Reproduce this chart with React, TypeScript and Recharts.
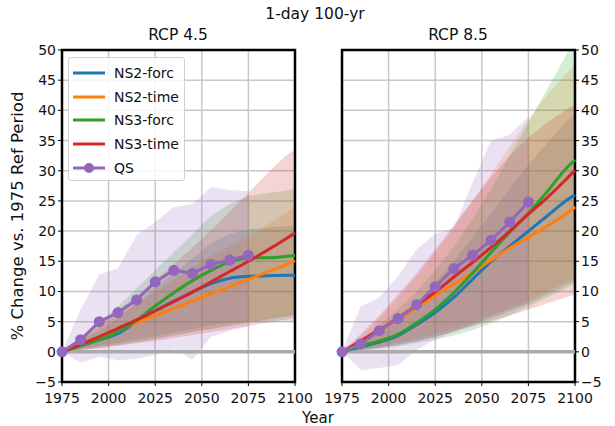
import React from 'react';
import {
  Area,
  CartesianGrid,
  ComposedChart,
  Line,
  ReferenceArea,
  ReferenceLine,
  XAxis,
  YAxis,
} from 'recharts';

// sample years (lines run to 2100, QS stops at 2075)
const years = [1975, 1985, 1995, 2005, 2015, 2025, 2035, 2045, 2055, 2065, 2075, 2085, 2095, 2100];
const xTicks = [1975, 2000, 2025, 2050, 2075, 2100];
const yTicks = [-5, 0, 5, 10, 15, 20, 25, 30, 35, 40, 45, 50];

// RCP 4.5 medians
const rcp45Ns2Forc = [0, 1.0, 2.0, 3.0, 5.0, 6.8, 8.4, 9.9, 11.3, 12.2, 12.5, 12.6, 12.7, 12.7];
const rcp45Ns2Time = [0, 1.2, 2.4, 3.6, 4.8, 6.0, 7.2, 8.4, 9.6, 10.8, 12.0, 13.2, 14.4, 15.1];
const rcp45Ns3Forc = [0, 1.0, 2.0, 3.3, 5.2, 7.6, 9.8, 11.8, 13.5, 14.9, 15.6, 15.6, 15.8, 16.0];
const rcp45Ns3Time = [0, 1.2, 2.5, 3.9, 5.3, 6.8, 8.3, 9.9, 11.6, 13.3, 15.0, 16.8, 18.7, 19.7];
const rcp45Qs = [0, 2.0, 5.0, 6.5, 8.6, 11.6, 13.5, 13.0, 14.5, 15.2, 16.0];

// RCP 4.5 ranges
const rcp45Ns2ForcLo = [0, 0.5, 1, 1.5, 2, 2.6, 3.2, 3.8, 4.4, 4.8, 5.0, 5.0, 5.0, 5.0];
const rcp45Ns2ForcHi = [0, 2, 3.5, 5.5, 8, 10.5, 13, 15.5, 18, 19.5, 20.3, 20.6, 20.8, 20.9];
const rcp45Ns2TimeLo = [0, 0.4, 0.8, 1.2, 1.7, 2.2, 2.8, 3.3, 3.8, 4.4, 4.9, 5.4, 5.9, 6.2];
const rcp45Ns2TimeHi = [0, 2, 4, 6, 8, 10, 12, 14, 16, 17.5, 19, 21, 23, 24];
const rcp45Ns3ForcLo = [0, 0.3, 0.7, 1.1, 1.6, 2.1, 2.7, 3.3, 3.8, 4.3, 4.8, 5.3, 5.8, 6.2];
const rcp45Ns3ForcHi = [0, 2.5, 5, 7.5, 10.5, 13.5, 16.5, 19.5, 22.5, 24.5, 25.8, 26.3, 26.7, 27];
const rcp45Ns3TimeLo = [0, 0.3, 0.6, 1.0, 1.4, 1.8, 2.3, 2.8, 3.3, 3.8, 4.3, 4.8, 5.3, 5.6];
const rcp45Ns3TimeHi = [0, 2.2, 4.5, 6.8, 9.2, 11.8, 14.5, 17.3, 20.2, 23.2, 26.3, 29.5, 32.5, 33.5];
const rcp45QsLo = [0, -1.8, -0.8, -1.4, -1.2, -0.5, 0.5, -1.3, 2.5, 3.5, 4.2];
const rcp45QsHi = [0, 7, 12.8, 13.8, 19.3, 21.5, 24, 24.5, 27.3, 26.8, 26.6];

// RCP 8.5 medians
const rcp85Ns2Forc = [0, 0.8, 1.6, 2.7, 4.5, 6.5, 9.0, 12.0, 15.0, 17.5, 20.0, 22.5, 25.0, 26.0];
const rcp85Ns2Time = [0, 1.6, 3.4, 5.3, 7.3, 9.3, 11.2, 13.1, 15.2, 17.2, 19.0, 20.8, 22.8, 24.0];
const rcp85Ns3Forc = [0, 1.0, 1.8, 2.9, 4.8, 7.0, 9.8, 13.0, 16.5, 19.8, 23.0, 26.5, 30.3, 31.8];
const rcp85Ns3Time = [0, 1.8, 3.6, 5.6, 7.7, 9.9, 12.4, 14.8, 17.3, 20.0, 22.8, 25.5, 28.5, 30.1];
const rcp85Qs = [0, 1.3, 3.5, 5.5, 7.8, 10.8, 13.8, 16.0, 18.5, 21.5, 24.8];

// RCP 8.5 ranges
const rcp85Ns2ForcLo = [0, 0.3, 0.6, 1.1, 1.7, 2.5, 3.4, 4.4, 5.5, 6.7, 8, 9.5, 11, 11.8];
const rcp85Ns2ForcHi = [0, 1.5, 3, 5, 8, 11.5, 15, 19, 23, 27, 31, 34.5, 38, 39.5];
const rcp85Ns2TimeLo = [0, 0.4, 0.9, 1.5, 2.2, 3, 3.9, 4.9, 6, 7.2, 8.5, 10, 11.5, 12.3];
const rcp85Ns2TimeHi = [0, 2.5, 5.5, 9, 12.5, 16.5, 20.5, 25, 29.5, 34, 38.5, 42.5, 46, 47.5];
const rcp85Ns3ForcLo = [0, 0.2, 0.5, 0.9, 1.4, 2, 2.7, 3.6, 4.7, 6, 7.5, 9, 10.5, 11.3];
const rcp85Ns3ForcHi = [0, 2, 4.5, 7, 10, 13.5, 17.5, 22, 27, 32.5, 38, 43.5, 49, 52];
const rcp85Ns3TimeLo = [0, 0.3, 0.7, 1.2, 1.8, 2.5, 3.3, 4.2, 5.1, 6, 7, 8, 9, 9.5];
const rcp85Ns3TimeHi = [0, 3, 6, 9.5, 13, 17, 21, 25, 29, 32.5, 35.5, 38, 40, 41];
const rcp85QsLo = [0, -3, -2.7, -2.2, 0.3, 2, 3.5, 4.5, 6, 7, 8];
const rcp85QsHi = [0, 7.5, 9, 12.5, 17, 19.5, 20.5, 28, 35, 36, 39];

const seriesNames = ['NS2-forc', 'NS2-time', 'NS3-forc', 'NS3-time', 'QS'];
const seriesColors = ['#1f77b4', '#ff7f0e', '#2ca02c', '#d62728', '#9467bd'];
const seriesKeys = ['ns2f', 'ns2t', 'ns3f', 'ns3t', 'qs'];

const FONT = 'DejaVu Sans, sans-serif';

type Row = Record<string, number | [number, number] | undefined>;

function buildRows(mid: number[][], lo: number[][], hi: number[][]): Row[] {
  return years.map((year, i) => {
    const row: Row = { year };
    seriesKeys.forEach((key, s) => {
      if (i < mid[s].length) {
        row[key] = mid[s][i];
        row[key + 'Band'] = [lo[s][i], hi[s][i]];
      }
    });
    return row;
  });
}

const data45 = buildRows(
  [rcp45Ns2Forc, rcp45Ns2Time, rcp45Ns3Forc, rcp45Ns3Time, rcp45Qs],
  [rcp45Ns2ForcLo, rcp45Ns2TimeLo, rcp45Ns3ForcLo, rcp45Ns3TimeLo, rcp45QsLo],
  [rcp45Ns2ForcHi, rcp45Ns2TimeHi, rcp45Ns3ForcHi, rcp45Ns3TimeHi, rcp45QsHi],
);
const data85 = buildRows(
  [rcp85Ns2Forc, rcp85Ns2Time, rcp85Ns3Forc, rcp85Ns3Time, rcp85Qs],
  [rcp85Ns2ForcLo, rcp85Ns2TimeLo, rcp85Ns3ForcLo, rcp85Ns3TimeLo, rcp85QsLo],
  [rcp85Ns2ForcHi, rcp85Ns2TimeHi, rcp85Ns3ForcHi, rcp85Ns3TimeHi, rcp85QsHi],
);

const fmtY = (v: number) => (v < 0 ? `\u2212${Math.abs(v)}` : `${v}`);

const LegendBox = () => (
  <div
    style={{
      position: 'absolute',
      left: 68,
      top: 57,
      width: 117,
      boxSizing: 'border-box',
      border: '1px solid #d0d0d0',
      borderRadius: 3,
      background: 'rgba(255,255,255,0.85)',
      padding: '3px 0 1px 4px',
      fontFamily: FONT,
      fontSize: 14,
      color: '#111',
    }}
  >
    {seriesNames.map((name, i) => (
      <div key={name} style={{ display: 'flex', alignItems: 'center', height: 23.7 }}>
        <svg width={32} height={12} style={{ marginRight: 9 }}>
          <line x1={0} y1={6} x2={32} y2={6} stroke={seriesColors[i]} strokeWidth={3} />
          {name === 'QS' && <circle cx={16} cy={6} r={5} fill={seriesColors[i]} />}
        </svg>
        <span>{name}</span>
      </div>
    ))}
  </div>
);

interface PanelProps {
  data: Row[];
  side: 'left' | 'right';
}

const Panel = ({ data, side }: PanelProps) => {
  const isLeft = side === 'left';
  return (
    <ComposedChart
      width={isLeft ? 330 : 305}
      height={426}
      data={data}
      margin={{ top: 50, bottom: 0, left: isLeft ? 0 : 32, right: isLeft ? 35 : 0 }}
    >
      <CartesianGrid stroke="#c8c8c8" strokeWidth={1.5} />
      <XAxis
        dataKey="year"
        type="number"
        domain={[1975, 2100]}
        ticks={xTicks}
        height={44}
        tickSize={4}
        tickMargin={7}
        tickLine={{ stroke: '#000' }}
        axisLine={false}
        tick={{ fill: '#111', fontSize: 14, fontFamily: FONT }}
        interval={0}
      />
      <YAxis
        orientation={side}
        type="number"
        domain={[-5, 50]}
        ticks={yTicks}
        allowDataOverflow
        width={isLeft ? 62 : 40}
        tickSize={4}
        tickLine={{ stroke: '#000' }}
        axisLine={false}
        tickFormatter={fmtY}
        tick={{ fill: '#111', fontSize: 14, fontFamily: FONT }}
        interval={0}
      />
      {seriesKeys.map((key, i) => (
        <Area
          key={key + 'Band'}
          dataKey={key + 'Band'}
          type="linear"
          stroke="none"
          fill={seriesColors[i]}
          fillOpacity={0.2}
          legendType="none"
          isAnimationActive={false}
          activeDot={false}
        />
      ))}
      <ReferenceLine y={0} stroke="#aaaaaa" strokeWidth={3.5} />
      {seriesKeys.map((key, i) => (
        <Line
          key={key}
          dataKey={key}
          name={seriesNames[i]}
          type={key === 'qs' ? 'linear' : 'monotone'}
          stroke={seriesColors[i]}
          strokeWidth={3}
          dot={key === 'qs' ? { r: 5.5, fill: seriesColors[i], stroke: seriesColors[i], strokeWidth: 0 } : false}
          activeDot={false}
          isAnimationActive={false}
        />
      ))}
      <ReferenceArea
        x1={1975}
        x2={2100}
        y1={-5}
        y2={50}
        fill="none"
        stroke="#000"
        strokeWidth={2.5}
        ifOverflow="visible"
      />
    </ComposedChart>
  );
};

const textStyle: React.CSSProperties = {
  position: 'absolute',
  fontFamily: FONT,
  color: '#111',
  whiteSpace: 'nowrap',
  transform: 'translate(-50%, -50%)',
};

export default function App() {
  return (
    <div
      style={{
        position: 'fixed',
        left: 0,
        top: 0,
        width: 615,
        height: 426,
        background: '#fff',
        overflow: 'hidden',
      }}
    >
      <div style={{ position: 'absolute', left: 0, top: 0 }}>
        <Panel data={data45} side="left" />
      </div>
      <div style={{ position: 'absolute', left: 310, top: 0 }}>
        <Panel data={data85} side="right" />
      </div>
      <LegendBox />
      <div style={{ ...textStyle, left: 315, top: 14, fontSize: 15.5 }}>1-day 100-yr</div>
      <div style={{ ...textStyle, left: 178, top: 35, fontSize: 15.5 }}>RCP 4.5</div>
      <div style={{ ...textStyle, left: 458, top: 35, fontSize: 15.5 }}>RCP 8.5</div>
      <div style={{ ...textStyle, left: 318, top: 418, fontSize: 15 }}>Year</div>
      <div
        style={{
          ...textStyle,
          left: 17,
          top: 216,
          fontSize: 16.5,
          transform: 'translate(-50%, -50%) rotate(-90deg)',
        }}
      >
        % Change vs. 1975 Ref Period
      </div>
    </div>
  );
}
